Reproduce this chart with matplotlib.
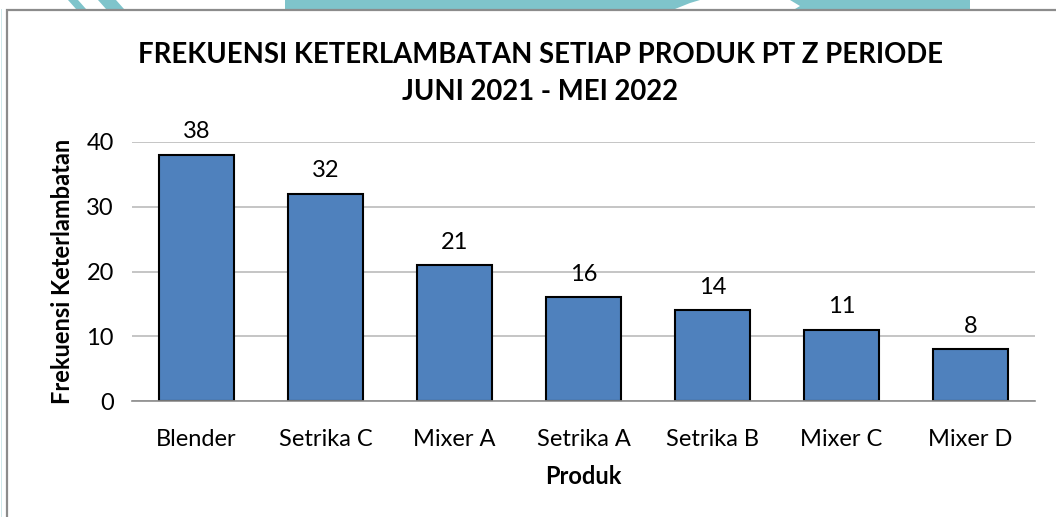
import matplotlib
matplotlib.use("Agg")
import matplotlib.pyplot as plt
from matplotlib.patches import Rectangle, Polygon

plt.rcParams['font.family'] = ['Lato', 'DejaVu Sans']

categories = ["Blender", "Setrika C", "Mixer A", "Setrika A", "Setrika B", "Mixer C", "Mixer D"]
values = [38, 32, 21, 16, 14, 11, 8]
yticks = [0, 10, 20, 30, 40]
title_lines = ["FREKUENSI KETERLAMBATAN SETIAP PRODUK PT Z PERIODE", "JUNI 2021 - MEI 2022"]
xlabel = "Produk"
ylabel = "Frekuensi Keterlambatan"

W, H = 1056, 517
fig = plt.figure(figsize=(W / 100, H / 100), dpi=100)

# decorative watermark strip at top
teal = "#7fc4cb"
def fx(x): return x / W
def fy(y): return 1 - y / H
for poly in [
    [(68, 0), (78, 0), (86, 9), (76, 9)],
    [(98, 0), (116, 0), (124, 9), (106, 9)],
    [(285, 0), (700, 0), (690, 3), (675, 9), (285, 9)],
    [(790, 0), (970, 0), (970, 9), (795, 9), (800, 6)],
]:
    fig.patches.append(Polygon([(fx(a), fy(b)) for a, b in poly], closed=True,
                               transform=fig.transFigure, facecolor=teal,
                               edgecolor="none", zorder=0))
fig.patches.append(Rectangle((fx(0.5), 0), 1.5 / W, fy(9), transform=fig.transFigure,
                             facecolor="#cfe8ea", edgecolor="none", zorder=0))
# chart frame
fig.patches.append(Rectangle((fx(6.5), fy(530)), (W + 20) / W, (530 - 9.5) / H,
                             transform=fig.transFigure, facecolor="none",
                             edgecolor="#8c8c8c", linewidth=1.6, zorder=1))

ax = fig.add_axes([132 / W, 1 - 401 / H, (1035 - 132) / W, (401 - 142) / H])
x = list(range(len(categories)))
bars = ax.bar(x, values, width=0.575, color="#4f81bd", edgecolor="black",
              linewidth=1.5, zorder=3)
ax.set_xlim(-0.5, len(categories) - 0.5)
ax.set_ylim(0, 40)
ax.set_yticks(yticks)
ax.set_xticks(x)
ax.set_xticklabels(categories)
ax.tick_params(axis="both", length=0, labelsize=17, colors="black")
ax.tick_params(axis="y", pad=13)
ax.tick_params(axis="x", pad=20)
ax.grid(axis="y", color="#b5b5b5", linewidth=1.1, zorder=0)
for s in ["top", "right", "left"]:
    ax.spines[s].set_visible(False)
ax.spines["bottom"].set_color("#8c8c8c")
ax.spines["bottom"].set_linewidth(1.2)
ax.spines["bottom"].set_zorder(4)

for xi, v in zip(x, values):
    ax.annotate(str(v), (xi, v), xytext=(0, 9), textcoords="offset points",
                ha="center", va="bottom", fontsize=17)

ax.set_xlabel(xlabel, fontsize=17, fontweight="bold", labelpad=11)
ax.set_ylabel(ylabel, fontsize=17, fontweight="bold", labelpad=9)
fig.text(540 / W, fy(55), title_lines[0], ha="center", va="center", fontsize=19.8,
         fontweight="bold")
fig.text(540 / W, fy(92), title_lines[1], ha="center", va="center", fontsize=19.8,
         fontweight="bold")

fig.savefig("out.png", dpi=100, facecolor="white")
